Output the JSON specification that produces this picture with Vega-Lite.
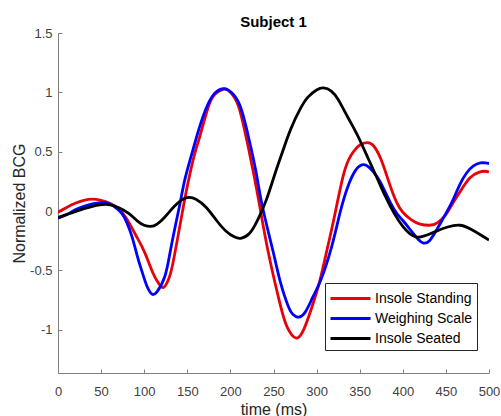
{
  "$schema": "https://vega.github.io/schema/vega-lite/v6.json",
  "width": 431,
  "height": 340,
  "autosize": {"type": "none"},
  "padding": {"left": 58, "top": 33, "right": 12, "bottom": 43},
  "background": "white",
  "title": {"text": "Subject 1", "fontSize": 15, "fontWeight": "bold", "font": "Liberation Sans", "color": "#000000", "offset": 0, "dy": 3, "anchor": "middle"},
  "config": {"view": {"stroke": null}},
  "datasets": {
    "bcg": [
      {"series": "Insole Standing", "t": 0, "v": -0.01},
      {"series": "Insole Standing", "t": 10, "v": 0.03},
      {"series": "Insole Standing", "t": 20, "v": 0.065},
      {"series": "Insole Standing", "t": 30, "v": 0.09},
      {"series": "Insole Standing", "t": 40, "v": 0.1},
      {"series": "Insole Standing", "t": 50, "v": 0.09},
      {"series": "Insole Standing", "t": 60, "v": 0.065},
      {"series": "Insole Standing", "t": 70, "v": 0.02},
      {"series": "Insole Standing", "t": 80, "v": -0.07},
      {"series": "Insole Standing", "t": 90, "v": -0.2},
      {"series": "Insole Standing", "t": 100, "v": -0.34},
      {"series": "Insole Standing", "t": 110, "v": -0.52},
      {"series": "Insole Standing", "t": 116, "v": -0.6},
      {"series": "Insole Standing", "t": 122, "v": -0.645},
      {"series": "Insole Standing", "t": 128, "v": -0.58},
      {"series": "Insole Standing", "t": 133, "v": -0.45},
      {"series": "Insole Standing", "t": 140, "v": -0.18},
      {"series": "Insole Standing", "t": 147, "v": 0.1},
      {"series": "Insole Standing", "t": 154, "v": 0.345},
      {"series": "Insole Standing", "t": 160, "v": 0.52},
      {"series": "Insole Standing", "t": 165, "v": 0.64},
      {"series": "Insole Standing", "t": 176, "v": 0.91},
      {"series": "Insole Standing", "t": 185, "v": 1.0},
      {"series": "Insole Standing", "t": 193, "v": 1.03},
      {"series": "Insole Standing", "t": 200, "v": 1.0},
      {"series": "Insole Standing", "t": 209, "v": 0.89},
      {"series": "Insole Standing", "t": 218, "v": 0.63},
      {"series": "Insole Standing", "t": 226.6, "v": 0.33},
      {"series": "Insole Standing", "t": 234.3, "v": 0.03},
      {"series": "Insole Standing", "t": 244, "v": -0.35},
      {"series": "Insole Standing", "t": 257.5, "v": -0.78},
      {"series": "Insole Standing", "t": 266, "v": -0.98},
      {"series": "Insole Standing", "t": 276, "v": -1.07},
      {"series": "Insole Standing", "t": 285, "v": -1.0},
      {"series": "Insole Standing", "t": 295, "v": -0.8},
      {"series": "Insole Standing", "t": 304, "v": -0.58},
      {"series": "Insole Standing", "t": 312, "v": -0.33},
      {"series": "Insole Standing", "t": 320, "v": -0.07},
      {"series": "Insole Standing", "t": 331, "v": 0.3},
      {"series": "Insole Standing", "t": 340, "v": 0.47},
      {"series": "Insole Standing", "t": 350, "v": 0.555},
      {"series": "Insole Standing", "t": 359, "v": 0.577},
      {"series": "Insole Standing", "t": 366, "v": 0.55},
      {"series": "Insole Standing", "t": 375, "v": 0.43},
      {"series": "Insole Standing", "t": 385, "v": 0.22},
      {"series": "Insole Standing", "t": 393, "v": 0.07},
      {"series": "Insole Standing", "t": 400, "v": -0.01},
      {"series": "Insole Standing", "t": 410, "v": -0.075},
      {"series": "Insole Standing", "t": 420, "v": -0.11},
      {"series": "Insole Standing", "t": 431, "v": -0.12},
      {"series": "Insole Standing", "t": 440, "v": -0.1},
      {"series": "Insole Standing", "t": 450, "v": -0.03},
      {"series": "Insole Standing", "t": 458, "v": 0.065},
      {"series": "Insole Standing", "t": 468, "v": 0.18},
      {"series": "Insole Standing", "t": 478, "v": 0.28},
      {"series": "Insole Standing", "t": 488, "v": 0.325},
      {"series": "Insole Standing", "t": 495, "v": 0.335},
      {"series": "Insole Standing", "t": 500, "v": 0.33},

      {"series": "Weighing Scale", "t": 0, "v": -0.06},
      {"series": "Weighing Scale", "t": 10, "v": -0.03},
      {"series": "Weighing Scale", "t": 20, "v": 0.01},
      {"series": "Weighing Scale", "t": 30, "v": 0.04},
      {"series": "Weighing Scale", "t": 40, "v": 0.06},
      {"series": "Weighing Scale", "t": 54, "v": 0.073},
      {"series": "Weighing Scale", "t": 65, "v": 0.04},
      {"series": "Weighing Scale", "t": 74, "v": -0.02},
      {"series": "Weighing Scale", "t": 80, "v": -0.1},
      {"series": "Weighing Scale", "t": 86, "v": -0.22},
      {"series": "Weighing Scale", "t": 92, "v": -0.38},
      {"series": "Weighing Scale", "t": 97, "v": -0.5},
      {"series": "Weighing Scale", "t": 103, "v": -0.63},
      {"series": "Weighing Scale", "t": 109, "v": -0.7},
      {"series": "Weighing Scale", "t": 115, "v": -0.68},
      {"series": "Weighing Scale", "t": 124, "v": -0.55},
      {"series": "Weighing Scale", "t": 130, "v": -0.35},
      {"series": "Weighing Scale", "t": 136, "v": -0.13},
      {"series": "Weighing Scale", "t": 142, "v": 0.08},
      {"series": "Weighing Scale", "t": 147, "v": 0.26},
      {"series": "Weighing Scale", "t": 154, "v": 0.45},
      {"series": "Weighing Scale", "t": 161, "v": 0.63},
      {"series": "Weighing Scale", "t": 167, "v": 0.77},
      {"series": "Weighing Scale", "t": 174, "v": 0.9},
      {"series": "Weighing Scale", "t": 183, "v": 1.0},
      {"series": "Weighing Scale", "t": 193, "v": 1.03},
      {"series": "Weighing Scale", "t": 201, "v": 1.0},
      {"series": "Weighing Scale", "t": 211, "v": 0.89},
      {"series": "Weighing Scale", "t": 220.8, "v": 0.63},
      {"series": "Weighing Scale", "t": 229.7, "v": 0.33},
      {"series": "Weighing Scale", "t": 237.4, "v": 0.03},
      {"series": "Weighing Scale", "t": 249.8, "v": -0.35},
      {"series": "Weighing Scale", "t": 258, "v": -0.6},
      {"series": "Weighing Scale", "t": 267, "v": -0.8},
      {"series": "Weighing Scale", "t": 273, "v": -0.875},
      {"series": "Weighing Scale", "t": 279, "v": -0.895},
      {"series": "Weighing Scale", "t": 287, "v": -0.85},
      {"series": "Weighing Scale", "t": 296, "v": -0.72},
      {"series": "Weighing Scale", "t": 305, "v": -0.58},
      {"series": "Weighing Scale", "t": 317.5, "v": -0.3},
      {"series": "Weighing Scale", "t": 327, "v": -0.02},
      {"series": "Weighing Scale", "t": 336, "v": 0.2},
      {"series": "Weighing Scale", "t": 345, "v": 0.34},
      {"series": "Weighing Scale", "t": 354, "v": 0.39},
      {"series": "Weighing Scale", "t": 362, "v": 0.36},
      {"series": "Weighing Scale", "t": 370, "v": 0.29},
      {"series": "Weighing Scale", "t": 377, "v": 0.2},
      {"series": "Weighing Scale", "t": 385, "v": 0.08},
      {"series": "Weighing Scale", "t": 393, "v": -0.02},
      {"series": "Weighing Scale", "t": 400, "v": -0.08},
      {"series": "Weighing Scale", "t": 410, "v": -0.17},
      {"series": "Weighing Scale", "t": 418, "v": -0.24},
      {"series": "Weighing Scale", "t": 424, "v": -0.27},
      {"series": "Weighing Scale", "t": 431, "v": -0.25},
      {"series": "Weighing Scale", "t": 440, "v": -0.15},
      {"series": "Weighing Scale", "t": 450, "v": -0.02},
      {"series": "Weighing Scale", "t": 458, "v": 0.09},
      {"series": "Weighing Scale", "t": 466, "v": 0.22},
      {"series": "Weighing Scale", "t": 474, "v": 0.32},
      {"series": "Weighing Scale", "t": 482, "v": 0.38},
      {"series": "Weighing Scale", "t": 490, "v": 0.405},
      {"series": "Weighing Scale", "t": 496, "v": 0.405},
      {"series": "Weighing Scale", "t": 500, "v": 0.4},

      {"series": "Insole Seated", "t": 0, "v": -0.055},
      {"series": "Insole Seated", "t": 10, "v": -0.03},
      {"series": "Insole Seated", "t": 20, "v": -0.005},
      {"series": "Insole Seated", "t": 30, "v": 0.02},
      {"series": "Insole Seated", "t": 40, "v": 0.04},
      {"series": "Insole Seated", "t": 56, "v": 0.056},
      {"series": "Insole Seated", "t": 70, "v": 0.03},
      {"series": "Insole Seated", "t": 82, "v": -0.02},
      {"series": "Insole Seated", "t": 93, "v": -0.09},
      {"series": "Insole Seated", "t": 100, "v": -0.12},
      {"series": "Insole Seated", "t": 107.5, "v": -0.13},
      {"series": "Insole Seated", "t": 115, "v": -0.11},
      {"series": "Insole Seated", "t": 124, "v": -0.05},
      {"series": "Insole Seated", "t": 135, "v": 0.04},
      {"series": "Insole Seated", "t": 145, "v": 0.1},
      {"series": "Insole Seated", "t": 152, "v": 0.115},
      {"series": "Insole Seated", "t": 160, "v": 0.1},
      {"series": "Insole Seated", "t": 172, "v": 0.03},
      {"series": "Insole Seated", "t": 184, "v": -0.08},
      {"series": "Insole Seated", "t": 195, "v": -0.17},
      {"series": "Insole Seated", "t": 205, "v": -0.22},
      {"series": "Insole Seated", "t": 212, "v": -0.23},
      {"series": "Insole Seated", "t": 222, "v": -0.19},
      {"series": "Insole Seated", "t": 232, "v": -0.07},
      {"series": "Insole Seated", "t": 242, "v": 0.1},
      {"series": "Insole Seated", "t": 252, "v": 0.32},
      {"series": "Insole Seated", "t": 261, "v": 0.51},
      {"series": "Insole Seated", "t": 270, "v": 0.69},
      {"series": "Insole Seated", "t": 281, "v": 0.86},
      {"series": "Insole Seated", "t": 290, "v": 0.96},
      {"series": "Insole Seated", "t": 300, "v": 1.02},
      {"series": "Insole Seated", "t": 308, "v": 1.037},
      {"series": "Insole Seated", "t": 317, "v": 1.01},
      {"series": "Insole Seated", "t": 325, "v": 0.94},
      {"series": "Insole Seated", "t": 331, "v": 0.86},
      {"series": "Insole Seated", "t": 340, "v": 0.74},
      {"series": "Insole Seated", "t": 350, "v": 0.6},
      {"series": "Insole Seated", "t": 360, "v": 0.44},
      {"series": "Insole Seated", "t": 370, "v": 0.28},
      {"series": "Insole Seated", "t": 380, "v": 0.12},
      {"series": "Insole Seated", "t": 390, "v": -0.02},
      {"series": "Insole Seated", "t": 400, "v": -0.13},
      {"series": "Insole Seated", "t": 408, "v": -0.19},
      {"series": "Insole Seated", "t": 416, "v": -0.22},
      {"series": "Insole Seated", "t": 425, "v": -0.21},
      {"series": "Insole Seated", "t": 439, "v": -0.17},
      {"series": "Insole Seated", "t": 452, "v": -0.135},
      {"series": "Insole Seated", "t": 466, "v": -0.12},
      {"series": "Insole Seated", "t": 478, "v": -0.15},
      {"series": "Insole Seated", "t": 490, "v": -0.2},
      {"series": "Insole Seated", "t": 500, "v": -0.245}
    ]
  },
  "data": {"name": "bcg"},
  "mark": {"type": "line", "interpolate": "natural", "strokeWidth": 2.8, "clip": true},
  "encoding": {
    "x": {
      "field": "t", "type": "quantitative",
      "scale": {"domain": [0, 500], "nice": false, "zero": false},
      "axis": {
        "title": "time (ms)", "values": [0, 50, 100, 150, 200, 250, 300, 350, 400, 450, 500],
        "grid": false, "domainColor": "#808080", "tickColor": "#808080", "tickSize": -4,
        "labelFlush": false, "labelOverlap": false,
        "labelPadding": 16, "labelFont": "Liberation Sans", "labelFontSize": 13, "labelColor": "#404040",
        "titleFont": "Liberation Sans", "titleFontSize": 16, "titleFontWeight": "normal", "titleColor": "#262626",
        "titlePadding": 3
      }
    },
    "y": {
      "field": "v", "type": "quantitative",
      "scale": {"domain": [-1.365, 1.5], "nice": false, "zero": false},
      "axis": {
        "title": "Normalized BCG", "values": [-1, -0.5, 0, 0.5, 1, 1.5],
        "labelExpr": "'' + datum.value",
        "grid": false, "domainColor": "#808080", "tickColor": "#808080", "tickSize": -4,
        "labelFlush": false, "labelOverlap": false,
        "labelPadding": 10, "labelFont": "Liberation Sans", "labelFontSize": 13, "labelColor": "#404040",
        "titleFont": "Liberation Sans", "titleFontSize": 16, "titleFontWeight": "normal", "titleColor": "#262626",
        "titlePadding": 2
      }
    },
    "color": {
      "field": "series", "type": "nominal",
      "scale": {"domain": ["Insole Standing", "Weighing Scale", "Insole Seated"], "range": ["#e8000b", "#0000ff", "#000000"]},
      "legend": {
        "title": null, "orient": "none", "legendX": 267, "legendY": 250,
        "symbolType": "M-1,0H3", "symbolSize": 400, "symbolStrokeWidth": 3,
        "labelFont": "Liberation Sans", "labelFontSize": 14, "labelColor": "#000000",
        "strokeColor": "#262626", "fillColor": "white", "padding": 4, "rowPadding": 1, "labelOffset": 23
      }
    },
    "order": {"field": "t", "type": "quantitative"}
  }
}
